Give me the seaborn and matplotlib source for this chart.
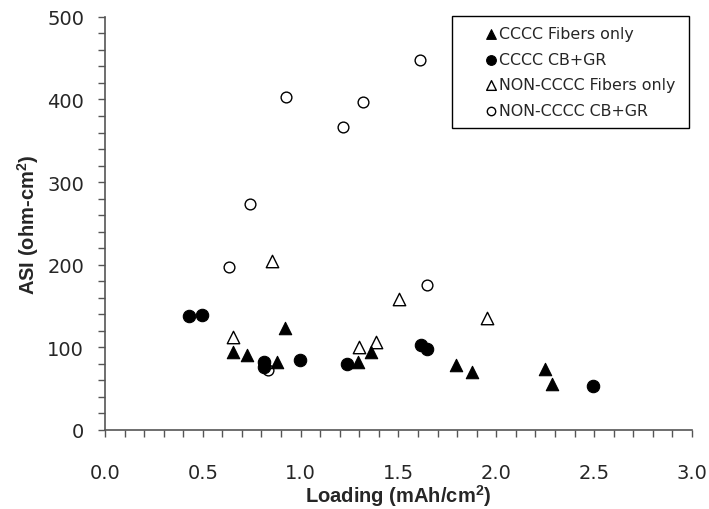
import matplotlib
matplotlib.use("Agg")
import matplotlib.pyplot as plt
from matplotlib.ticker import MultipleLocator, FormatStrFormatter
import seaborn as sns
import pandas as pd

# Loading (mAh/cm2) and ASI (ohm-cm2) for each electrode group
cccc_fib_x = [0.655, 0.724, 0.879, 0.920, 1.295, 1.359, 1.794, 1.875, 2.248, 2.283]
cccc_fib_y = [94, 91, 82.5, 123, 82.5, 94, 78.5, 70, 74, 55.5]

cccc_cbgr_x = [0.431, 0.494, 0.814, 0.814, 0.996, 1.235, 1.615, 1.647, 2.495]
cccc_cbgr_y = [137.5, 139, 82.5, 76, 85, 80, 103, 98, 53]

non_fib_x = [0.656, 0.852, 1.298, 1.385, 1.504, 1.950]
non_fib_y = [113, 205, 101, 107, 159, 136]

non_cbgr_x = [0.632, 0.741, 0.923, 1.215, 1.320, 1.610, 1.644, 0.831]
non_cbgr_y = [197, 273, 403, 367, 397, 448, 175, 72]

series_names = ["CCCC Fibers only", "CCCC CB+GR",
                "NON-CCCC Fibers only", "NON-CCCC CB+GR"]

sns.set_style("ticks")
plt.rcParams["font.family"] = ["DejaVu Sans"]
plt.rcParams["mathtext.fontset"] = "custom"
plt.rcParams["mathtext.rm"] = "Liberation Sans"
plt.rcParams["mathtext.bf"] = "Liberation Sans:bold"

frames = []
for name, xs, ys in zip(series_names,
                        [cccc_fib_x, cccc_cbgr_x, non_fib_x, non_cbgr_x],
                        [cccc_fib_y, cccc_cbgr_y, non_fib_y, non_cbgr_y]):
    frames.append(pd.DataFrame({"loading": xs, "asi": ys, "group": name}))
df = pd.concat(frames, ignore_index=True)

styles = {
    "CCCC Fibers only": dict(marker="^", facecolor="black", s=80, lw=0.8),
    "CCCC CB+GR": dict(marker="o", facecolor="black", s=80, lw=0.8),
    "NON-CCCC Fibers only": dict(marker="^", facecolor="white", s=80, lw=1.0),
    "NON-CCCC CB+GR": dict(marker="o", facecolor="white", s=60, lw=1.0),
}

fig = plt.figure(figsize=(7.09, 5.10), dpi=100)
ax = fig.add_axes([0.148, 0.155, 0.828, 0.810])

# Open symbols first so the filled ones sit on top
for name in ["NON-CCCC CB+GR", "NON-CCCC Fibers only", "CCCC CB+GR", "CCCC Fibers only"]:
    st = styles[name]
    sns.scatterplot(data=df[df["group"] == name], x="loading", y="asi", ax=ax,
                    marker=st["marker"], s=st["s"], color=st["facecolor"],
                    edgecolor="black", linewidth=st["lw"], label=name, zorder=3)

ax.set_xlim(0, 3.0)
ax.set_ylim(0, 500)
ax.xaxis.set_major_locator(MultipleLocator(0.5))
ax.xaxis.set_minor_locator(MultipleLocator(0.1))
ax.yaxis.set_major_locator(MultipleLocator(100))
ax.yaxis.set_minor_locator(MultipleLocator(20))
ax.xaxis.set_major_formatter(FormatStrFormatter("%.1f"))

sns.despine(ax=ax)
for side in ["left", "bottom"]:
    ax.spines[side].set_color("#555555")
    ax.spines[side].set_linewidth(1.2)

ax.tick_params(axis="both", which="both", direction="out", length=5,
               width=1.0, color="#555555", labelsize=14)
ax.tick_params(axis="x", which="major", pad=19)
ax.tick_params(axis="y", which="major", pad=10)

ax.set_xlabel(r"Loading (mAh/cm$^{\mathbf{2}}$)", fontsize=14.5,
              fontweight="bold", family="Liberation Sans")
ax.set_ylabel(r"ASI (ohm-cm$^{\mathbf{2}}$)", fontsize=14.5,
              fontweight="bold", family="Liberation Sans")
ax.xaxis.set_label_coords(0.5, -0.158)
ax.xaxis.label.set_va("center")
ax.yaxis.set_label_coords(-0.131, 0.5)
ax.yaxis.label.set_va("center")

handles, labels = ax.get_legend_handles_labels()
order = [labels.index(n) for n in series_names]
leg = ax.legend([handles[i] for i in order], [labels[i] for i in order],
                loc="upper left", bbox_to_anchor=(0.591, 0.0, 0.404, 1.003),
                mode="expand", borderaxespad=0,
                fontsize=11.4, frameon=True, fancybox=False, framealpha=1,
                edgecolor="black", handlelength=3.68, handletextpad=-1.33,
                borderpad=0.65, labelspacing=0.68, markerscale=0.78)
leg.get_frame().set_linewidth(1.0)

fig.savefig("out.png", dpi=100)
